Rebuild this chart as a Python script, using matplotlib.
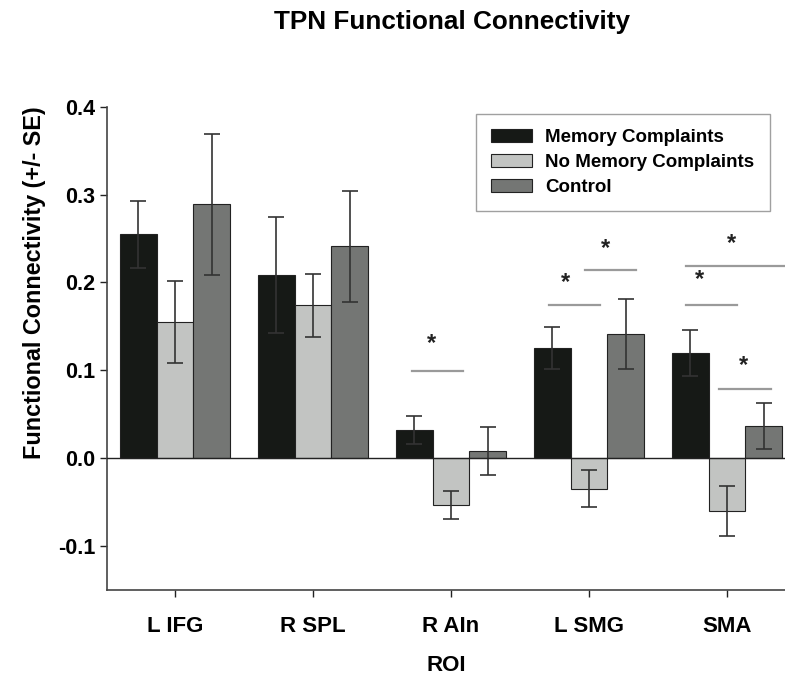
import numpy as np
import matplotlib
matplotlib.use("Agg")
import matplotlib.pyplot as plt

plt.rcParams['font.family'] = ['Liberation Sans', 'DejaVu Sans']
plt.rcParams['font.weight'] = 'bold'

# data
rois = ["L IFG", "R SPL", "R AIn", "L SMG", "SMA"]
groups = ["Memory Complaints", "No Memory Complaints", "Control"]
mem_mean = [0.255, 0.208, 0.032, 0.125, 0.120]
mem_se = [0.038, 0.066, 0.016, 0.024, 0.026]
nomem_mean = [0.155, 0.174, -0.053, -0.035, -0.060]
nomem_se = [0.047, 0.036, 0.016, 0.021, 0.028]
ctrl_mean = [0.289, 0.241, 0.008, 0.141, 0.037]
ctrl_se = [0.080, 0.063, 0.027, 0.040, 0.026]

# significance markers: (x start, x end, line y, star x, star y)
sig_x0 = [1.72, 2.71, 2.97, 3.70, 3.70, 3.94]
sig_x1 = [2.09, 3.08, 3.34, 4.60, 4.07, 4.32]
sig_y = [0.099, 0.174, 0.214, 0.219, 0.174, 0.079]
star_x = [1.86, 2.83, 3.12, 4.03, 3.80, 4.12]
star_y = [0.131, 0.200, 0.239, 0.244, 0.203, 0.105]

colors = ["#161916", "#c2c4c2", "#747674"]

fig = plt.figure(figsize=(7.85, 6.77), dpi=100)
ax = fig.add_axes([107 / 785, 87 / 677, 678 / 785, 483.3 / 677])

x = np.arange(len(rois))
w = 0.267
means = [mem_mean, nomem_mean, ctrl_mean]
ses = [mem_se, nomem_se, ctrl_se]
for i in range(3):
    ax.bar(x + (i - 1) * w, means[i], w, color=colors[i], edgecolor="#222222",
           linewidth=0.8, label=groups[i], zorder=2,
           yerr=ses[i], error_kw=dict(ecolor="#333333", elinewidth=1.2,
                                      capsize=6, capthick=1.2, zorder=3))

ax.axhline(0, color="#222222", linewidth=1.0, zorder=4)

for i in range(len(sig_y)):
    ax.plot([sig_x0[i], sig_x1[i]], [sig_y[i], sig_y[i]], color="#9a9a9a",
            linewidth=1.6, zorder=3)
    ax.text(star_x[i], star_y[i], "*", ha="center", va="center",
            fontsize=17, color="#222222")

ax.set_xlim(-0.493, 4.42)
ax.set_ylim(-0.15, 0.4)
ax.set_yticks([-0.1, 0.0, 0.1, 0.2, 0.3, 0.4])
ax.set_yticklabels(["-0.1", "0.0", "0.1", "0.2", "0.3", "0.4"])
ax.set_xticks(x)
ax.set_xticklabels(rois)
ax.tick_params(axis="both", labelsize=15.5, colors="#222222", length=5,
               width=1.0, direction="out")
ax.tick_params(axis="x", labelsize=16, pad=14)
for lab in ax.get_xticklabels() + ax.get_yticklabels():
    lab.set_fontweight("bold")
    lab.set_color("black")

for s in ["top", "right"]:
    ax.spines[s].set_visible(False)
for s in ["left", "bottom"]:
    ax.spines[s].set_color("#444444")
    ax.spines[s].set_linewidth(1.2)

ax.set_ylabel("Functional Connectivity (+/- SE)", fontsize=16.8,
              fontweight="bold")
ax.yaxis.set_label_coords(-0.090, 0.635)
ax.set_xlabel("ROI", fontsize=16, fontweight="bold", labelpad=13)

fig.text(452 / 785, 1 - 22 / 677, "TPN Functional Connectivity", ha="center",
         va="center", fontsize=18.8, fontweight="bold")

leg = ax.legend(loc="upper left", bbox_to_anchor=(476 / 785, 1 - 114 / 677),
                bbox_transform=fig.transFigure, fontsize=13.5, frameon=True,
                fancybox=False, edgecolor="#888888", handlelength=2.2,
                handleheight=0.7, labelspacing=0.42, borderpad=0.8,
                borderaxespad=0, handletextpad=0.7)
leg.get_frame().set_linewidth(1.0)
for t in leg.get_texts():
    t.set_fontweight("bold")

fig.savefig("out.png", dpi=100)
